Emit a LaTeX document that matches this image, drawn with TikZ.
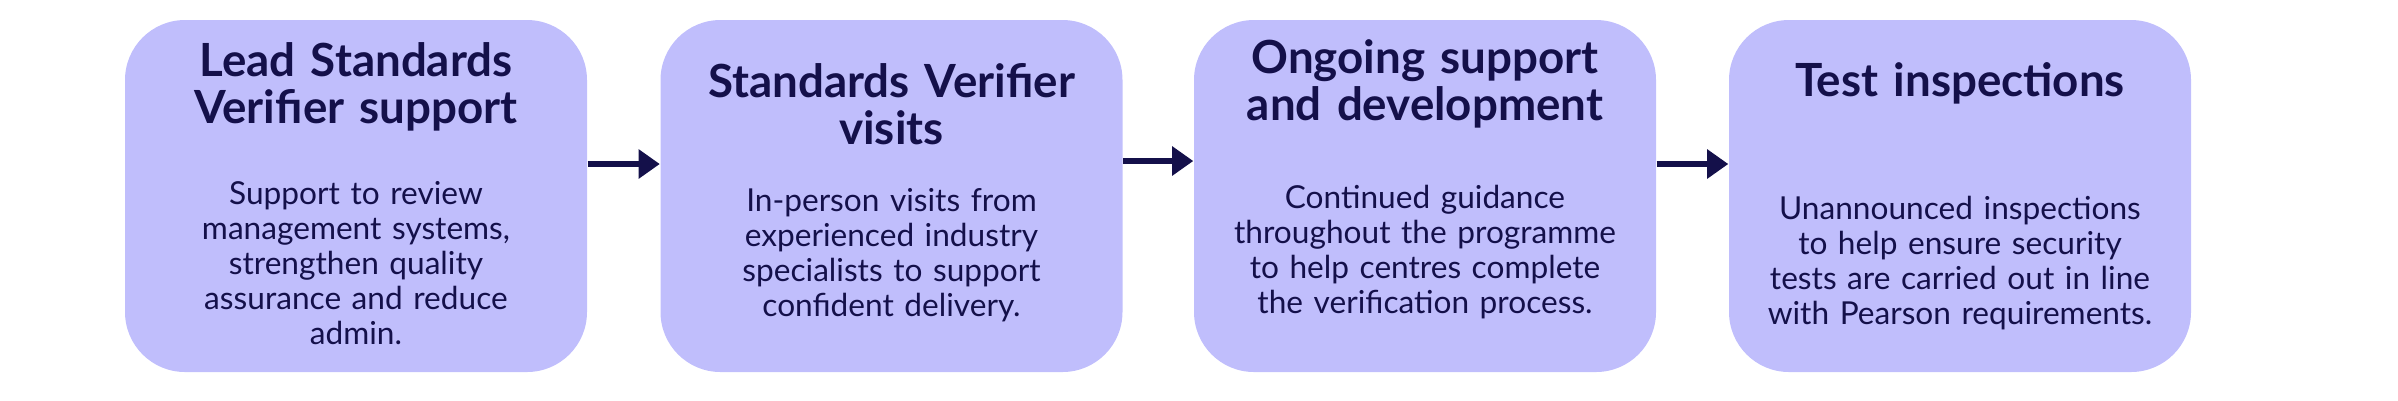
\documentclass[tikz,border=0pt]{standalone}
\usepackage{fontspec}
\setmainfont{Lato}
\usetikzlibrary{arrows.meta}
\definecolor{boxfill}{HTML}{C0BEFC}
\definecolor{inkblue}{HTML}{14104A}
\begin{document}
\begin{tikzpicture}
\tikzstyle{stagebox}=[fill=boxfill, rounded corners=0.6cm, minimum width=4.62cm, minimum height=3.52cm, inner sep=0pt]
\tikzstyle{head}=[text=inkblue, font=\fontsize{13}{13.4}\selectfont\bfseries, align=center, text width=4.6cm]
\tikzstyle{body}=[text=inkblue, font=\fontsize{9}{10}\selectfont, align=center, text width=4.6cm]
\tikzstyle{flow}=[draw=inkblue, line width=1.8pt, -{Triangle[length=6pt,width=8pt]}]
\useasboundingbox (0,0) rectangle (23.98,4);
% boxes
\node [stagebox] (lead) at (3.56,2.04) {};
\node [stagebox] (visit) at (8.915,2.04) {};
\node [stagebox] (ongo) at (14.25,2.04) {};
\node [stagebox] (test) at (19.6,2.04) {};
% titles
\node [head] (leadT) at (3.56,3.13) {Lead Standards\\Verifier support};
\node [head] (visitT) at (8.915,2.96) {Standards Verifier\\visits};
\node [head] (ongoT) at (14.25,3.16) {Ongoing support\\and development};
\node [head] (testT) at (19.6,3.17) {Test inspections};
% descriptions
\node [body] (leadB) at (3.56,1.37) {Support to review\\management systems,\\strengthen quality\\assurance and reduce\\admin.};
\node [body] (visitB) at (8.915,1.45) {In-person visits from\\experienced industry\\specialists to support\\confident delivery.};
\node [body] (ongoB) at (14.25,1.48) {Continued guidance\\throughout the programme\\to help centres complete\\the verification process.};
\node [body] (testB) at (19.6,1.37) {Unannounced inspections\\to help ensure security\\tests are carried out in line\\with Pearson requirements.};
% arrows
\draw [flow] ([yshift=0.32cm]lead.east) -- ([yshift=0.32cm]visit.west);
\draw [flow] ([yshift=0.35cm]visit.east) -- ([yshift=0.35cm]ongo.west);
\draw [flow] ([yshift=0.32cm]ongo.east) -- ([yshift=0.32cm]test.west);
\end{tikzpicture}
\end{document}
